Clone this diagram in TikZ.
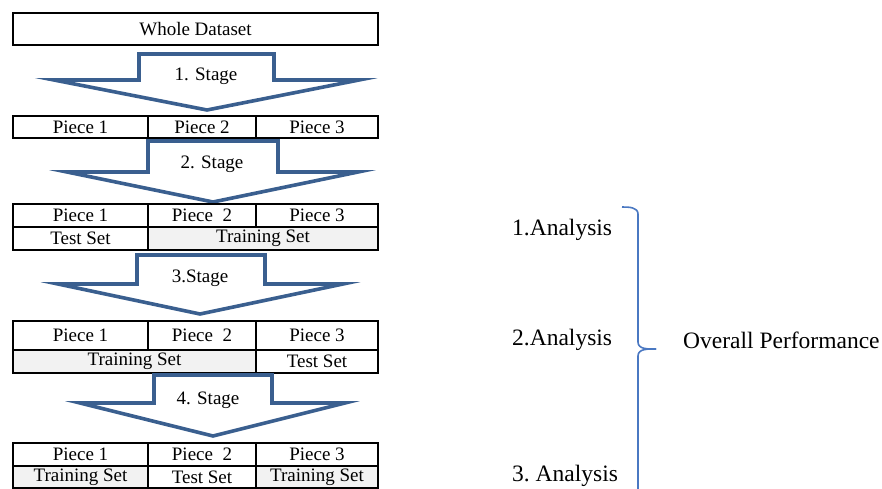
\documentclass[tikz,border=0pt]{standalone}
\usepackage{fontspec}
\setmainfont{Liberation Serif}
\definecolor{arrowblue}{HTML}{3A5F8F}
\definecolor{bracketblue}{HTML}{4A78C2}
\definecolor{cellgray}{HTML}{F2F2F2}
\begin{document}
\begin{tikzpicture}[x=1pt,y=-1pt,
  cell/.style={draw=black,line width=1.8pt,inner sep=0pt,outer sep=0pt,
    font=\fontsize{19}{22}\selectfont,anchor=center},
  graycell/.style={cell,fill=cellgray},
  bigarrow/.style={draw=arrowblue,line width=3.6pt,fill=white,line join=miter,miter limit=20},
  stagelabel/.style={inner sep=0pt,font=\fontsize{19}{22}\selectfont},
  rlabel/.style={inner sep=0pt,anchor=west,font=\fontsize{23.5}{27}\selectfont},
  brace/.style={draw=bracketblue,line width=1.6pt}]
\useasboundingbox (0,0) rectangle (882,489);
\fill[white] (0,0) rectangle (882,489);

% Whole dataset
\node[cell,minimum width=365pt,minimum height=32pt] (whole) at (195.5,29) {Whole Dataset};

% Arrow 1
\draw[bigarrow] (139,54) -- (274,54) -- (274,80) -- (359,80) -- (207,110) -- (54,80) -- (139,80) -- cycle;
\node[stagelabel] (s1) at (206,76) {1. Stage};

% Row 1
\node[cell,minimum width=135pt,minimum height=22pt] (r1a) at (80.5,127) {Piece 1};
\node[cell,minimum width=108pt,minimum height=22pt] (r1b) at (202,127) {Piece 2};
\node[cell,minimum width=122pt,minimum height=22pt] (r1c) at (317,127) {Piece 3};

% Arrow 2
\draw[bigarrow] (148,141) -- (278,141) -- (278,172) -- (358,172) -- (213,202) -- (67,172) -- (148,172) -- cycle;
\node[stagelabel] (s2) at (212,164) {2. Stage};

% Row 2
\node[cell,minimum width=135pt,minimum height=23pt] (r2a) at (80.5,215.5) {Piece 1};
\node[cell,minimum width=108pt,minimum height=23pt] (r2b) at (202,215.5) {Piece\ \ 2};
\node[cell,minimum width=122pt,minimum height=23pt] (r2c) at (317,215.5) {Piece 3};
\node[cell,minimum width=135pt,minimum height=23pt] (t2a) at (80.5,238.5) {Test Set};
\node[graycell,minimum width=230pt,minimum height=23pt] (t2b) at (263,238.5) {Training Set};

% Arrow 3
\draw[bigarrow] (137,255) -- (265,255) -- (265,284) -- (343,284) -- (200,314) -- (58,284) -- (137,284) -- cycle;
\node[stagelabel] (s3) at (200,278) {3.Stage};

% Row 3
\node[cell,minimum width=135pt,minimum height=29pt] (r3a) at (80.5,335.5) {Piece 1};
\node[cell,minimum width=108pt,minimum height=29pt] (r3b) at (202,335.5) {Piece\ \ 2};
\node[cell,minimum width=122pt,minimum height=29pt] (r3c) at (317,335.5) {Piece 3};
\node[graycell,minimum width=243pt,minimum height=23pt] (t3a) at (134.5,361.5) {Training Set};
\node[cell,minimum width=122pt,minimum height=23pt] (t3b) at (317,361.5) {Test Set};

% Arrow 4
\draw[bigarrow] (154,375) -- (272,375) -- (272,403) -- (345,403) -- (213,436) -- (80,403) -- (154,403) -- cycle;
\node[stagelabel] (s4) at (208,400) {4. Stage};

% Row 4
\node[cell,minimum width=135pt,minimum height=23pt] (r4a) at (80.5,454.5) {Piece 1};
\node[cell,minimum width=108pt,minimum height=23pt] (r4b) at (202,454.5) {Piece\ \ 2};
\node[cell,minimum width=122pt,minimum height=23pt] (r4c) at (317,454.5) {Piece 3};
\node[graycell,minimum width=135pt,minimum height=22pt] (t4a) at (80.5,477) {Training Set};
\node[cell,minimum width=108pt,minimum height=22pt] (t4b) at (202,477) {Test Set};
\node[graycell,minimum width=122pt,minimum height=22pt] (t4c) at (317,477) {Training Set};

% Right side labels
\node[rlabel] (a1) at (512,230) {1.Analysis};
\node[rlabel] (a2) at (512,340) {2.Analysis};
\node[rlabel] (a3) at (512,476) {3.~Analysis};
\node[rlabel] (op) at (683,340) {Overall Performance};

% Brace
\coordinate (btop) at (622,207);
\coordinate (btip) at (656,349);
\coordinate (bbot) at (638,489);
\draw[brace] (btop) to[out=0,in=90] (638,214) -- (638,342) to[out=-90,in=180] (btip);
\draw[brace] (btip) to[out=180,in=90] (638,356) -- (bbot);
\end{tikzpicture}
\end{document}
